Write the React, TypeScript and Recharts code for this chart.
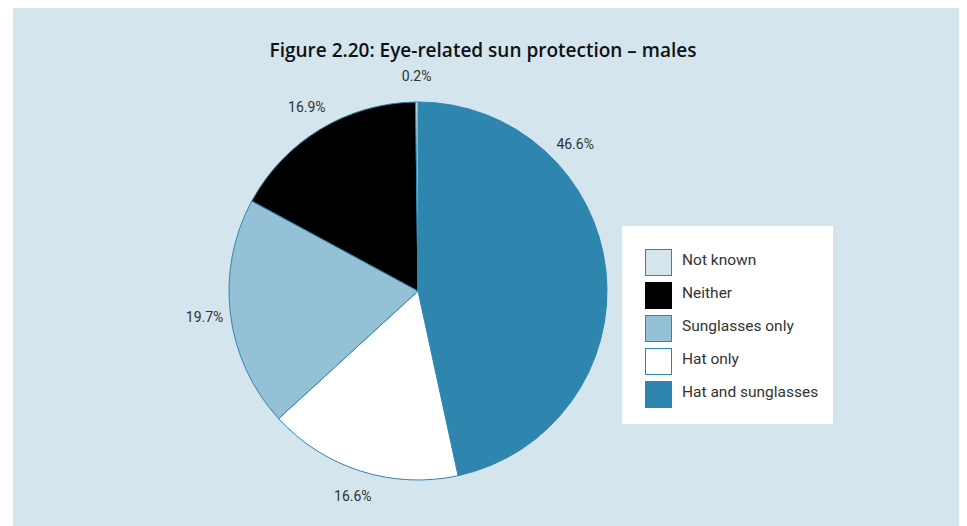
import { PieChart, Pie, Cell, Legend } from "recharts";

const categories = ["Hat and sunglasses", "Hat only", "Sunglasses only", "Neither", "Not known"];
const shares = [46.6, 16.6, 19.7, 16.9, 0.2];
const legendOrder = ["Not known", "Neither", "Sunglasses only", "Hat only", "Hat and sunglasses"];

const colors: Record<string, string> = {
  "Hat and sunglasses": "#2e86ae",
  "Hat only": "#ffffff",
  "Sunglasses only": "#95c1d6",
  Neither: "#000000",
  "Not known": "#d4e5ee",
};

const BG = "#d4e5ee";
const EDGE = "#2e86ae";
const FONT = "Roboto, 'Liberation Sans', sans-serif";

const data = categories.map((name, i) => ({ name, value: shares[i] }));

const RAD = Math.PI / 180;

const renderLabel = (props: any) => {
  const { cx, cy, outerRadius, midAngle, startAngle, endAngle, value } = props;
  // the big slice has its label pushed up toward the top, as in the original
  let angle = midAngle;
  if (value > 40) angle = startAngle - (startAngle - endAngle) * 0.28;
  const r = outerRadius + 26;
  const x = cx + r * Math.cos(-angle * RAD);
  const y = cy + r * Math.sin(-angle * RAD);
  return (
    <text
      x={x}
      y={y}
      textAnchor="middle"
      dominantBaseline="central"
      fill="#333"
      fontSize={14}
      fontFamily={FONT}
    >
      {`${value.toFixed(1)}%`}
    </text>
  );
};

const LegendBox = () => (
  <div
    style={{
      background: "#fff",
      width: 211,
      height: 198,
      boxSizing: "border-box",
      paddingTop: 20,
      paddingLeft: 23,
      fontFamily: FONT,
    }}
  >
    {legendOrder.map((name) => (
      <div key={name} style={{ display: "flex", alignItems: "center", height: 33 }}>
        <div
          style={{
            width: 27,
            height: 27,
            boxSizing: "border-box",
            background: colors[name],
            border: `1px solid ${name === "Neither" ? "#000" : EDGE}`,
          }}
        />
        <span
          style={{ marginLeft: 10, fontSize: 15.5, color: "#333", position: "relative", top: -3 }}
        >
          {name}
        </span>
      </div>
    ))}
  </div>
);

export default function App() {
  return (
    <div style={{ position: "relative", marginLeft: 5, width: 946, height: 518, background: BG }}>
      <div
        style={{
          position: "absolute",
          top: 29,
          left: 0,
          width: 940,
          textAlign: "center",
          fontFamily: "'Open Sans', sans-serif",
          fontWeight: 600,
          fontSize: 19,
          color: "#111",
        }}
      >
        Figure 2.20: Eye-related sun protection – males
      </div>
      <PieChart width={946} height={518}>
        <Pie
          data={data}
          dataKey="value"
          nameKey="name"
          cx={400}
          cy={278}
          outerRadius={189}
          startAngle={90}
          endAngle={-270}
          stroke={EDGE}
          strokeWidth={1}
          label={renderLabel}
          labelLine={false}
          isAnimationActive={false}
        >
          {data.map((d) => (
            <Cell key={d.name} fill={colors[d.name]} />
          ))}
        </Pie>
        <Legend
          content={<LegendBox />}
          wrapperStyle={{ left: 609, top: 218, width: 211, height: 198 }}
        />
      </PieChart>
    </div>
  );
}
